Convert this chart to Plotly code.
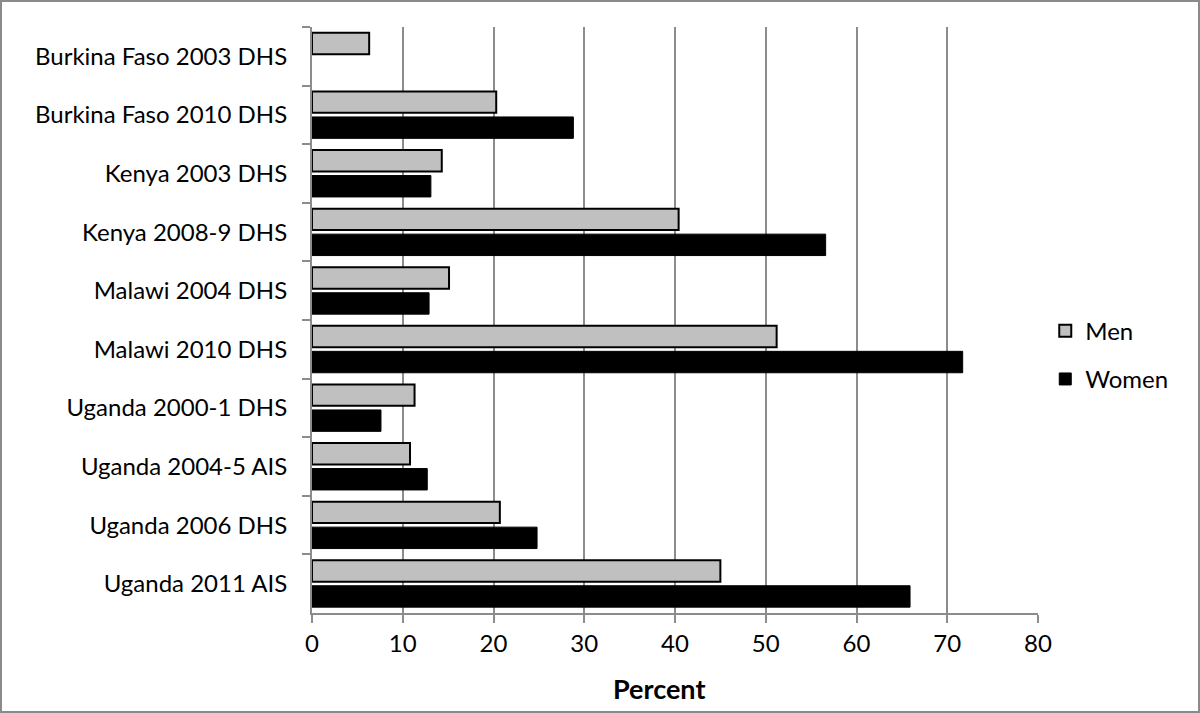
import plotly.graph_objects as go

categories = ["Burkina Faso 2003 DHS", "Burkina Faso 2010 DHS", "Kenya 2003 DHS",
              "Kenya 2008-9 DHS", "Malawi 2004 DHS", "Malawi 2010 DHS",
              "Uganda 2000-1 DHS", "Uganda 2004-5 AIS", "Uganda 2006 DHS",
              "Uganda 2011 AIS"]
men = [6.3, 20.3, 14.3, 40.4, 15.1, 51.2, 11.3, 10.8, 20.7, 45.0]
women = [None, 28.8, 13.1, 56.6, 12.9, 71.7, 7.6, 12.7, 24.8, 65.9]
x_ticks = [0, 10, 20, 30, 40, 50, 60, 70, 80]

W, H = 1200, 713
L, R, T, B = 312, 162, 27, 100
FONT = "Lato, 'Open Sans', sans-serif"

fig = go.Figure()
fig.add_trace(go.Bar(y=categories, x=men, orientation="h", name="Men",
                     legendgroup="m",
                     marker=dict(color="#c0c0c0", line=dict(color="black", width=2))))
fig.add_trace(go.Bar(y=categories, x=women, orientation="h", name="Women",
                     legendgroup="w",
                     marker=dict(color="black", line=dict(color="black", width=1))))

pw = W - L - R
ph = H - T - B
fig.add_shape(type="rect", xref="paper", yref="paper",
              x0=(-L + 1) / pw, x1=(W - L - 1) / pw,
              y0=(-B + 1) / ph, y1=(H - B - 1) / ph,
              line=dict(color="#8a8a8a", width=2), fillcolor="rgba(0,0,0,0)", layer="below")

fig.add_annotation(text="<b>Percent</b>", xref="paper", yref="paper",
                   x=(659 - L) / pw, y=-(688 - (H - B)) / ph,
                   xanchor="center", yanchor="middle", showarrow=False,
                   font=dict(size=27, family=FONT, color="black"))

fig.update_layout(
    width=W, height=H,
    margin=dict(l=L, r=R, t=T, b=B, pad=0),
    paper_bgcolor="white", plot_bgcolor="white",
    barmode="group", bargap=0.13, bargroupgap=0.16,
    font=dict(family=FONT, size=24, color="black"),
    showlegend=True,
    legend=dict(x=1.01, y=0.44, xanchor="left", yanchor="middle",
                traceorder="grouped", tracegroupgap=14,
                font=dict(size=24, family=FONT)),
    xaxis=dict(range=[0, 80], tickvals=x_ticks, showgrid=True,
               gridcolor="#8c8c8c", gridwidth=2,
               showline=True, linecolor="#8c8c8c", linewidth=2,
               ticks="outside", ticklen=8, tickcolor="#8c8c8c", tickwidth=2,
               tickfont=dict(size=24), zeroline=False),
    yaxis=dict(autorange="reversed", type="category", showgrid=False,
               showline=True, linecolor="#8c8c8c", linewidth=2,
               ticks="outside", ticklen=8, tickcolor="#8c8c8c", tickwidth=2,
               tickson="boundaries", tickfont=dict(size=24), ticklabelstandoff=18),
)

fig.write_html("out.html", config={"displayModeBar": False},
               post_script="document.body.style.margin='0';document.body.style.padding='0';")
